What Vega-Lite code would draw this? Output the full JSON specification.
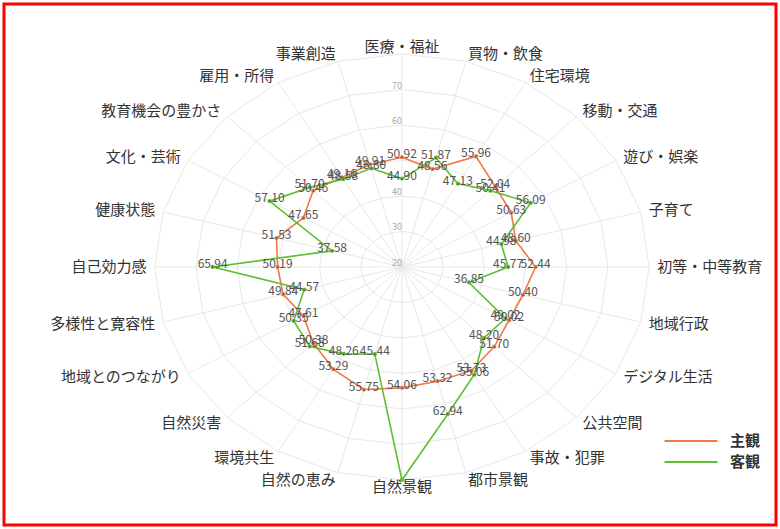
{
  "$schema": "https://vega.github.io/schema/vega-lite/v6.json",
  "autosize": "none",
  "padding": 4,
  "width": 772,
  "height": 521,
  "background": "white",
  "config": {
    "view": {"stroke": "#ff0000", "strokeWidth": 3},
    "font": "Noto Sans CJK JP"
  },
  "datasets": {
    "cats": [
      {"cat": "医療・福祉", "i": 0},
      {"cat": "買物・飲食", "i": 1},
      {"cat": "住宅環境", "i": 2},
      {"cat": "移動・交通", "i": 3},
      {"cat": "遊び・娯楽", "i": 4},
      {"cat": "子育て", "i": 5},
      {"cat": "初等・中等教育", "i": 6},
      {"cat": "地域行政", "i": 7},
      {"cat": "デジタル生活", "i": 8},
      {"cat": "公共空間", "i": 9},
      {"cat": "事故・犯罪", "i": 10},
      {"cat": "都市景観", "i": 11},
      {"cat": "自然景観", "i": 12},
      {"cat": "自然の恵み", "i": 13},
      {"cat": "環境共生", "i": 14},
      {"cat": "自然災害", "i": 15},
      {"cat": "地域とのつながり", "i": 16},
      {"cat": "多様性と寛容性", "i": 17},
      {"cat": "自己効力感", "i": 18},
      {"cat": "健康状態", "i": 19},
      {"cat": "文化・芸術", "i": 20},
      {"cat": "教育機会の豊かさ", "i": 21},
      {"cat": "雇用・所得", "i": 22},
      {"cat": "事業創造", "i": 23}
    ],
    "ticks": [{"tick": 20}, {"tick": 30}, {"tick": 40}, {"tick": 60}, {"tick": 70}],
    "vals": [
      {"cat": "医療・福祉", "series": "主観", "value": 50.92},
      {"cat": "買物・飲食", "series": "主観", "value": 48.56},
      {"cat": "住宅環境", "series": "主観", "value": 55.96},
      {"cat": "移動・交通", "series": "主観", "value": 52.04},
      {"cat": "遊び・娯楽", "series": "主観", "value": 50.63},
      {"cat": "子育て", "series": "主観", "value": 48.60},
      {"cat": "初等・中等教育", "series": "主観", "value": 52.44},
      {"cat": "地域行政", "series": "主観", "value": 50.40},
      {"cat": "デジタル生活", "series": "主観", "value": 50.02},
      {"cat": "公共空間", "series": "主観", "value": 51.70},
      {"cat": "事故・犯罪", "series": "主観", "value": 53.73},
      {"cat": "都市景観", "series": "主観", "value": 53.32},
      {"cat": "自然景観", "series": "主観", "value": 54.06},
      {"cat": "自然の恵み", "series": "主観", "value": 55.75},
      {"cat": "環境共生", "series": "主観", "value": 53.29},
      {"cat": "自然災害", "series": "主観", "value": 50.38},
      {"cat": "地域とのつながり", "series": "主観", "value": 47.61},
      {"cat": "多様性と寛容性", "series": "主観", "value": 49.84},
      {"cat": "自己効力感", "series": "主観", "value": 50.19},
      {"cat": "健康状態", "series": "主観", "value": 51.53},
      {"cat": "文化・芸術", "series": "主観", "value": 47.65},
      {"cat": "教育機会の豊かさ", "series": "主観", "value": 50.46},
      {"cat": "雇用・所得", "series": "主観", "value": 49.16},
      {"cat": "事業創造", "series": "主観", "value": 49.91},
      {"cat": "医療・福祉", "series": "客観", "value": 44.90},
      {"cat": "買物・飲食", "series": "客観", "value": 51.87},
      {"cat": "住宅環境", "series": "客観", "value": 47.13},
      {"cat": "移動・交通", "series": "客観", "value": 50.41},
      {"cat": "遊び・娯楽", "series": "客観", "value": 56.09},
      {"cat": "子育て", "series": "客観", "value": 44.98},
      {"cat": "初等・中等教育", "series": "客観", "value": 45.77},
      {"cat": "地域行政", "series": "客観", "value": 36.85},
      {"cat": "デジタル生活", "series": "客観", "value": 49.02},
      {"cat": "公共空間", "series": "客観", "value": 48.20},
      {"cat": "事故・犯罪", "series": "客観", "value": 55.06},
      {"cat": "都市景観", "series": "客観", "value": 62.94},
      {"cat": "自然景観", "series": "客観", "value": 80.00},
      {"cat": "自然の恵み", "series": "客観", "value": 45.44},
      {"cat": "環境共生", "series": "客観", "value": 48.26},
      {"cat": "自然災害", "series": "客観", "value": 51.68},
      {"cat": "地域とのつながり", "series": "客観", "value": 50.35},
      {"cat": "多様性と寛容性", "series": "客観", "value": 44.57},
      {"cat": "自己効力感", "series": "客観", "value": 65.94},
      {"cat": "健康状態", "series": "客観", "value": 37.58},
      {"cat": "文化・芸術", "series": "客観", "value": 57.10},
      {"cat": "教育機会の豊かさ", "series": "客観", "value": 51.70},
      {"cat": "雇用・所得", "series": "客観", "value": 48.58},
      {"cat": "事業創造", "series": "客観", "value": 48.80}
    ]
  },
  "layer": [
    {
      "data": {"name": "cats"},
      "transform": [
        {"calculate": "[30, 40, 50, 60, 70, 80]", "as": "ring"},
        {"flatten": ["ring"]},
        {"calculate": "datum.i * PI / 12", "as": "a"},
        {"calculate": "(datum.ring - 20) * sin(datum.a)", "as": "gx"},
        {"calculate": "(datum.ring - 20) * cos(datum.a)", "as": "gy"}
      ],
      "mark": {"type": "line", "interpolate": "linear-closed", "stroke": "#e8e8e8", "strokeWidth": 1},
      "encoding": {
        "x": {"field": "gx", "type": "quantitative", "scale": {"domain": [-96.6, 90.8], "nice": false, "zero": false}, "axis": null},
        "y": {"field": "gy", "type": "quantitative", "scale": {"domain": [-72.7, 74.1], "nice": false, "zero": false}, "axis": null},
        "detail": {"field": "ring", "type": "nominal"},
        "order": {"field": "i", "type": "quantitative"}
      }
    },
    {
      "data": {"name": "cats"},
      "transform": [
        {"calculate": "datum.i * PI / 12", "as": "a"},
        {"calculate": "0", "as": "zx"},
        {"calculate": "0", "as": "zy"},
        {"calculate": "60 * sin(datum.a)", "as": "sx"},
        {"calculate": "60 * cos(datum.a)", "as": "sy"}
      ],
      "mark": {"type": "rule", "stroke": "#e8e8e8", "strokeWidth": 1},
      "encoding": {
        "x": {"field": "zx", "type": "quantitative"},
        "y": {"field": "zy", "type": "quantitative"},
        "x2": {"field": "sx"},
        "y2": {"field": "sy"}
      }
    },
    {
      "data": {"name": "ticks"},
      "transform": [
        {"calculate": "datum.tick - 20", "as": "ty"},
        {"calculate": "0", "as": "tx"}
      ],
      "mark": {"type": "text", "fontSize": 9, "color": "#aaaaaa", "dx": -5, "dy": -4, "align": "center", "baseline": "middle"},
      "encoding": {
        "x": {"field": "tx", "type": "quantitative"},
        "y": {"field": "ty", "type": "quantitative"},
        "text": {"field": "tick", "type": "quantitative"}
      }
    },
    {
      "data": {"name": "cats"},
      "transform": [
        {"filter": "datum.i >= 1 && datum.i <= 11"},
        {"calculate": "datum.i * PI / 12", "as": "a"},
        {"calculate": "62 * sin(datum.a)", "as": "lx"},
        {"calculate": "62 * cos(datum.a)", "as": "ly"}
      ],
      "mark": {"type": "text", "fontSize": 15, "color": "#333333", "align": "left", "baseline": "middle"},
      "encoding": {
        "x": {"field": "lx", "type": "quantitative"},
        "y": {"field": "ly", "type": "quantitative"},
        "text": {"field": "cat", "type": "nominal"}
      }
    },
    {
      "data": {"name": "cats"},
      "transform": [
        {"filter": "datum.i >= 13"},
        {"calculate": "datum.i * PI / 12", "as": "a"},
        {"calculate": "62 * sin(datum.a)", "as": "lx"},
        {"calculate": "62 * cos(datum.a)", "as": "ly"}
      ],
      "mark": {"type": "text", "fontSize": 15, "color": "#333333", "align": "right", "baseline": "middle"},
      "encoding": {
        "x": {"field": "lx", "type": "quantitative"},
        "y": {"field": "ly", "type": "quantitative"},
        "text": {"field": "cat", "type": "nominal"}
      }
    },
    {
      "data": {"name": "cats"},
      "transform": [
        {"filter": "datum.i == 0 || datum.i == 12"},
        {"calculate": "datum.i * PI / 12", "as": "a"},
        {"calculate": "62 * sin(datum.a)", "as": "lx"},
        {"calculate": "62 * cos(datum.a)", "as": "ly"}
      ],
      "mark": {"type": "text", "fontSize": 15, "color": "#333333", "align": "center", "baseline": "middle"},
      "encoding": {
        "x": {"field": "lx", "type": "quantitative"},
        "y": {"field": "ly", "type": "quantitative"},
        "text": {"field": "cat", "type": "nominal"}
      }
    },
    {
      "data": {"name": "vals"},
      "transform": [
        {"lookup": "cat", "from": {"data": {"name": "cats"}, "key": "cat", "fields": ["i"]}},
        {"calculate": "datum.i * PI / 12", "as": "a"},
        {"calculate": "(datum.value - 20) * sin(datum.a)", "as": "px"},
        {"calculate": "(datum.value - 20) * cos(datum.a)", "as": "py"}
      ],
      "layer": [
        {
          "mark": {"type": "line", "interpolate": "linear-closed", "strokeWidth": 1.6},
          "encoding": {
            "x": {"field": "px", "type": "quantitative"},
            "y": {"field": "py", "type": "quantitative"},
            "order": {"field": "i", "type": "quantitative"},
            "color": {
              "field": "series", "type": "nominal",
              "scale": {"domain": ["主観", "客観"], "range": ["#ef7b45", "#5dbf2e"]},
              "legend": {
                "title": null,
                "orient": "none",
                "legendX": 659,
                "legendY": 427,
                "symbolType": "stroke",
                "symbolSize": 2800,
                "symbolStrokeWidth": 2.2,
                "clipHeight": 20,
                "labelFontSize": 15,
                "labelFontWeight": "bold",
                "labelColor": "#333333",
                "labelFont": "Noto Sans CJK JP",
                "labelOffset": 11,
                "rowPadding": 1
              }
            }
          }
        },
        {
          "mark": {"type": "point", "filled": true, "size": 18, "opacity": 1},
          "encoding": {
            "x": {"field": "px", "type": "quantitative"},
            "y": {"field": "py", "type": "quantitative"},
            "color": {"field": "series", "type": "nominal", "legend": null}
          }
        },
        {
          "transform": [{"filter": "datum.value < 79"}],
          "mark": {"type": "text", "fontSize": 12, "color": "#555555", "dy": -3, "align": "center", "baseline": "middle"},
          "encoding": {
            "x": {"field": "px", "type": "quantitative"},
            "y": {"field": "py", "type": "quantitative"},
            "text": {"field": "value", "type": "quantitative", "format": ".2f"}
          }
        }
      ]
    }
  ]
}
